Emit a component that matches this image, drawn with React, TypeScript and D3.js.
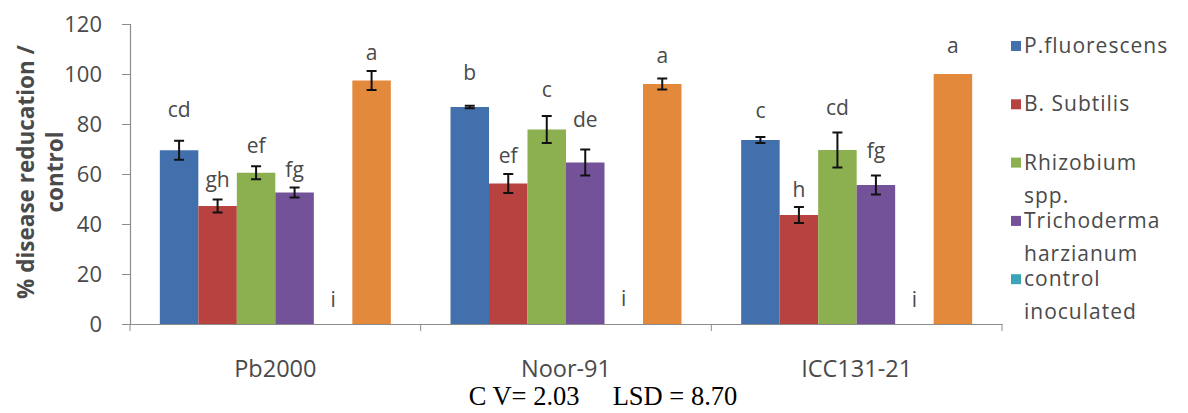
import { useEffect, useRef } from 'react';
import * as d3 from 'd3';

// varieties on the x axis
const categories = ['Pb2000', 'Noor-91', 'ICC131-21'];

// treatments (last one has no legend entry in the original)
const seriesNames = [
  'P.fluorescens',
  'B. Subtilis',
  'Rhizobium spp.',
  'Trichoderma harzianum',
  'control inoculated',
  'extra',
];
const legendLines = [
  ['P.fluorescens'],
  ['B. Subtilis'],
  ['Rhizobium', 'spp.'],
  ['Trichoderma', 'harzianum'],
  ['control', 'inoculated'],
];
const colors = ['#4270ad', '#b8423f', '#8cb04f', '#735299', '#3aa5b8', '#e3893c'];

// values per series, one per category
const values = [
  [69.5, 86.8, 73.6],
  [47.2, 56.2, 43.6],
  [60.5, 77.8, 69.6],
  [52.6, 64.6, 55.6],
  [0, 0, 0],
  [97.4, 96, 100],
];
const errors = [
  [3.8, 0.5, 1.2],
  [2.6, 3.8, 3.2],
  [2.6, 5.4, 7],
  [2, 5.2, 3.8],
  [0, 0, 0],
  [3.8, 2.2, 0],
];
// significance letters and the height (data units) of their baseline
const letters = [
  ['cd', 'b', 'c'],
  ['gh', 'ef', 'h'],
  ['ef', 'c', 'cd'],
  ['fg', 'de', 'fg'],
  ['i', 'i', 'i'],
  ['a', 'a', 'a'],
];
const letterAt = [
  [82.8, 97.6, 82.4],
  [54.8, 64.4, 50.8],
  [68.4, 90.8, 83.6],
  [58.8, 78.8, 66.4],
  [6.8, 7.2, 7],
  [105.6, 104.4, 108.4],
];
const yTicks = [0, 20, 40, 60, 80, 100, 120];

export default function App() {
  const gx = useRef<SVGGElement>(null),
    gy = useRef<SVGGElement>(null);

  const width = 1188,
    height = 413,
    marginLeft = 130,
    plotRight = 1002,
    plotTop = 24,
    plotBottom = 324;

  const font = '"Open Sans", sans-serif';
  const textColor = '#4a4a4a';

  const y = d3.scaleLinear().domain([0, 120]).range([plotBottom, plotTop]);
  const x0 = d3
    .scaleBand()
    .domain(categories)
    .range([marginLeft, plotRight])
    .padding(0);
  const x1 = d3
    .scaleBand()
    .domain(seriesNames)
    .range([0, x0.bandwidth()])
    .paddingInner(0)
    .paddingOuter(0.775);

  useEffect(() => {
    const ax = d3.select(gx.current);
    ax.call(
      d3
        .axisBottom(x0)
        .tickSize(0)
        .tickPadding(0)
        .tickFormat(() => '')
    );
    ax.selectAll('.tick').remove();
    ax.select('.domain').attr('stroke', '#8c8c8c').attr('stroke-width', 1.2);
    // category boundary ticks
    const bounds = [...categories.map((c) => x0(c)!), plotRight];
    ax.selectAll('line.bt')
      .data(bounds)
      .join('line')
      .attr('class', 'bt')
      .attr('x1', (d) => d)
      .attr('x2', (d) => d)
      .attr('y1', 0)
      .attr('y2', 7)
      .attr('stroke', '#8c8c8c');
    ax.selectAll('text.cat')
      .data(categories)
      .join('text')
      .attr('class', 'cat')
      .attr('x', (d) => x0(d)! + x0.bandwidth() / 2)
      .attr('y', 53)
      .attr('text-anchor', 'middle')
      .attr('font-family', font)
      .attr('font-size', 23.5)
      .attr('fill', textColor)
      .text((d) => d);

    const ay = d3.select(gy.current);
    ay.call(d3.axisLeft(y).tickValues(yTicks).tickSize(8).tickPadding(20));
    ay.select('.domain').attr('stroke', '#8c8c8c').attr('stroke-width', 1.2);
    ay.selectAll('.tick line').attr('stroke', '#8c8c8c');
    ay.selectAll('.tick text')
      .attr('font-family', font)
      .attr('font-size', 22)
      .attr('fill', textColor);
  }, []);

  return (
    <svg
      width={width}
      height={height}
      style={{ position: 'absolute', left: 0, top: 0, background: '#fff' }}
    >
      {seriesNames.map((s, si) =>
        categories.map((c, ci) => {
          const v = values[si][ci];
          const bx = x0(c)! + x1(s)!;
          const bw = x1.bandwidth();
          const e = errors[si][ci];
          const cx = bx + bw / 2;
          return (
            <g key={`${si}-${ci}`}>
              {v > 0 && (
                <rect
                  x={bx}
                  y={y(v)}
                  width={bw}
                  height={y(0) - y(v)}
                  fill={colors[si]}
                />
              )}
              {e > 0 && (
                <g stroke="#111" strokeWidth={2}>
                  <line x1={cx} x2={cx} y1={y(v + e)} y2={y(v - e)} />
                  <line x1={cx - 5} x2={cx + 5} y1={y(v + e)} y2={y(v + e)} />
                  <line x1={cx - 5} x2={cx + 5} y1={y(v - e)} y2={y(v - e)} />
                </g>
              )}
              <text
                x={cx}
                y={y(letterAt[si][ci])}
                textAnchor="middle"
                fontFamily={font}
                fontSize={21}
                fill={textColor}
              >
                {letters[si][ci]}
              </text>
            </g>
          );
        })
      )}
      <g ref={gx} transform={`translate(0,${plotBottom})`} />
      <g ref={gy} transform={`translate(${marginLeft},0)`} />

      {/* y axis title */}
      <text
        transform={`translate(34,${(plotTop + plotBottom) / 2 - 2}) rotate(-90)`}
        textAnchor="middle"
        fontFamily={font}
        fontWeight="bold"
        fontSize={22.5}
        fill={textColor}
      >
        % disease reducation /
      </text>
      <text
        transform={`translate(63,${(plotTop + plotBottom) / 2 - 2}) rotate(-90)`}
        textAnchor="middle"
        fontFamily={font}
        fontWeight="bold"
        fontSize={22.5}
        fill={textColor}
      >
        control
      </text>

      {/* legend */}
      {legendLines.map((lines, i) => {
        const ly = 46 + i * 58.3;
        return (
          <g key={i}>
            <rect x={1011} y={ly - 5} width={10} height={10} fill={colors[i]} />
            {lines.map((t, li) => (
              <text
                key={li}
                x={1024}
                y={ly + 7 + li * 33}
                fontFamily={font}
                fontSize={21}
                letterSpacing={1}
                fill={textColor}
              >
                {t}
              </text>
            ))}
          </g>
        );
      })}

      <text
        x={603}
        y={405}
        textAnchor="middle"
        fontFamily='"Liberation Serif", "Times New Roman", serif'
        fontSize={26.5}
        fill="#000"
        style={{ whiteSpace: 'pre' }}
      >
        {'C V= 2.03     LSD = 8.70'}
      </text>
    </svg>
  );
}
